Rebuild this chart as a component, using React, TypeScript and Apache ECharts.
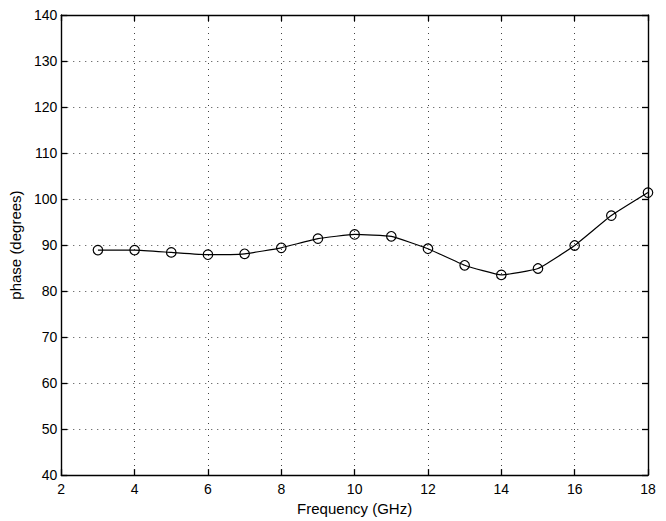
import React, { useEffect, useRef } from "react";
import * as echarts from "echarts";

const freqs = [3, 4, 5, 6, 7, 8, 9, 10, 11, 12, 13, 14, 15, 16, 17, 18];
const phase = [88.9, 88.9, 88.4, 87.9, 88.1, 89.4, 91.4, 92.3, 91.9, 89.2, 85.6, 83.5, 84.9, 89.9, 96.4, 101.4];
const xTitle = "Frequency (GHz)";
const yTitle = "phase (degrees)";

export default function App() {
  const ref = useRef<HTMLDivElement>(null);
  useEffect(() => {
    const chart = echarts.init(ref.current!, null, { renderer: "svg" });
    const font = "'Liberation Sans', Arial, sans-serif";
    const axisLine = { show: true, lineStyle: { color: "#000", width: 1.4 } };
    const tick = { show: true, inside: true, length: 6, lineStyle: { color: "#000", width: 1.3 } };
    const split = { show: true, lineStyle: { color: "#444", width: 1, type: [1, 5] as any } };
    chart.setOption({
      animation: false,
      backgroundColor: "#fff",
      grid: { left: 59, top: 15, right: 18, bottom: 42, containLabel: false },
      xAxis: [
        {
          type: "value", min: 2, max: 18, interval: 2, position: "bottom",
          name: xTitle, nameLocation: "middle", nameGap: 23,
          nameTextStyle: { fontFamily: font, fontSize: 15, color: "#000" },
          axisLine, axisTick: tick, splitLine: split,
          axisLabel: { fontFamily: font, fontSize: 14, color: "#000", margin: 7 },
        },
        {
          type: "value", min: 2, max: 18, interval: 2, position: "top",
          axisLine, axisTick: tick, splitLine: { show: false }, axisLabel: { show: false },
        },
      ],
      yAxis: [
        {
          type: "value", min: 40, max: 140, interval: 10, position: "left",
          name: yTitle, nameLocation: "middle", nameGap: 34,
          nameTextStyle: { fontFamily: font, fontSize: 15, color: "#000" },
          axisLine, axisTick: tick, splitLine: split,
          axisLabel: { fontFamily: font, fontSize: 14, color: "#000", margin: 4 },
        },
        {
          type: "value", min: 40, max: 140, interval: 10, position: "right",
          axisLine, axisTick: tick, splitLine: { show: false }, axisLabel: { show: false },
        },
      ],
      series: [
        {
          type: "line",
          data: freqs.map((f, i) => [f, phase[i]]),
          smooth: 0.12,
          symbol: "circle",
          symbolSize: 9.5,
          itemStyle: { color: "transparent", borderColor: "#000", borderWidth: 1.2 },
          lineStyle: { color: "#000", width: 1.2 },
        },
      ],
    });
    return () => chart.dispose();
  }, []);
  return (
    <div
      ref={ref}
      style={{ position: "fixed", left: 0, top: 0, width: 666, height: 521, background: "#fff" }}
    />
  );
}
